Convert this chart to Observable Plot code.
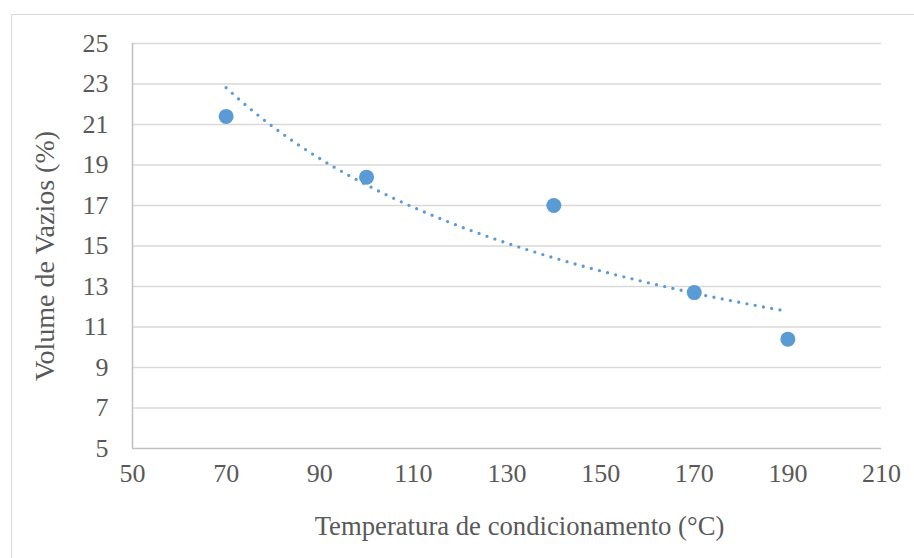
<!DOCTYPE html>
<html><head><meta charset="utf-8">
<script src="https://cdn.jsdelivr.net/npm/d3@7"></script>
<script src="https://cdn.jsdelivr.net/npm/@observablehq/plot@0.6"></script>
<style>
body{margin:0;background:#fff;}
#wrap{position:relative;width:914px;height:558px;overflow:hidden;}
#border{position:absolute;left:11px;top:14px;width:920px;height:560px;border:1px solid #d9d9d9;box-sizing:border-box;}
#chart{position:absolute;left:0;top:0;}
</style></head>
<body><div id="wrap"><div id="border"></div><div id="chart"></div></div>
<script>
const temperatures = [70, 100, 140, 170, 190];
const voids = [21.4, 18.4, 17.0, 12.7, 10.4];
const xTicks = [50, 70, 90, 110, 130, 150, 170, 190, 210];
const yTicks = [5, 7, 9, 11, 13, 15, 17, 19, 21, 23, 25];
const xTitle = "Temperatura de condicionamento (°C)";
const yTitle = "Volume de Vazios (%)";

const pts = temperatures.map((t, i) => ({x: t, y: voids[i]}));
// power trendline (least squares on log-log), as in the spreadsheet
const lx = temperatures.map(Math.log), ly = voids.map(Math.log);
const mx = d3.mean(lx), my = d3.mean(ly);
const b = d3.sum(lx, (v, i) => (v - mx) * (ly[i] - my)) / d3.sum(lx, v => (v - mx) ** 2);
const a = Math.exp(my - b * mx);
const xmin = d3.min(temperatures), xmax = d3.max(temperatures);
const trend = d3.range(0, 121).map(k => {
  const x = xmin + (xmax - xmin) * k / 120;
  return {x, y: a * Math.pow(x, b)};
});

const font = "'Liberation Serif', 'Times New Roman', serif";
const chart = Plot.plot({
  width: 914, height: 558,
  marginLeft: 132, marginRight: 33, marginTop: 43, marginBottom: 110,
  style: {fontFamily: font, fontSize: "26px", color: "#595959", background: "transparent"},
  x: {domain: [50, 210], ticks: xTicks, tickSize: 0, tickPadding: 15, label: null},
  y: {domain: [5, 25], ticks: yTicks, tickSize: 0, tickPadding: 24, label: null},
  marks: [
    Plot.ruleY(yTicks.filter(d => d > 5), {stroke: "#d9d9d9", strokeWidth: 1.5}),
    Plot.ruleY([5], {stroke: "#bfbfbf", strokeWidth: 1.5}),
    Plot.ruleX([50], {stroke: "#bfbfbf", strokeWidth: 1.5}),
    Plot.line(trend, {x: "x", y: "y", stroke: "#5b9bd5", strokeWidth: 3.3, strokeDasharray: "0,8.4", strokeLinecap: "round"}),
    Plot.dot(pts, {x: "x", y: "y", r: 7.5, fill: "#5b9bd5", stroke: "none"}),
    Plot.text([xTitle], {frameAnchor: "bottom", dx: 12.5, dy: 86, fontSize: 26.7, fill: "#595959"}),
    Plot.text([yTitle], {frameAnchor: "left", textAnchor: "middle", dx: -87, dy: 10, rotate: -90, fontSize: 28, fill: "#595959"})
  ]
});
document.getElementById("chart").appendChild(chart);
</script></body></html>
